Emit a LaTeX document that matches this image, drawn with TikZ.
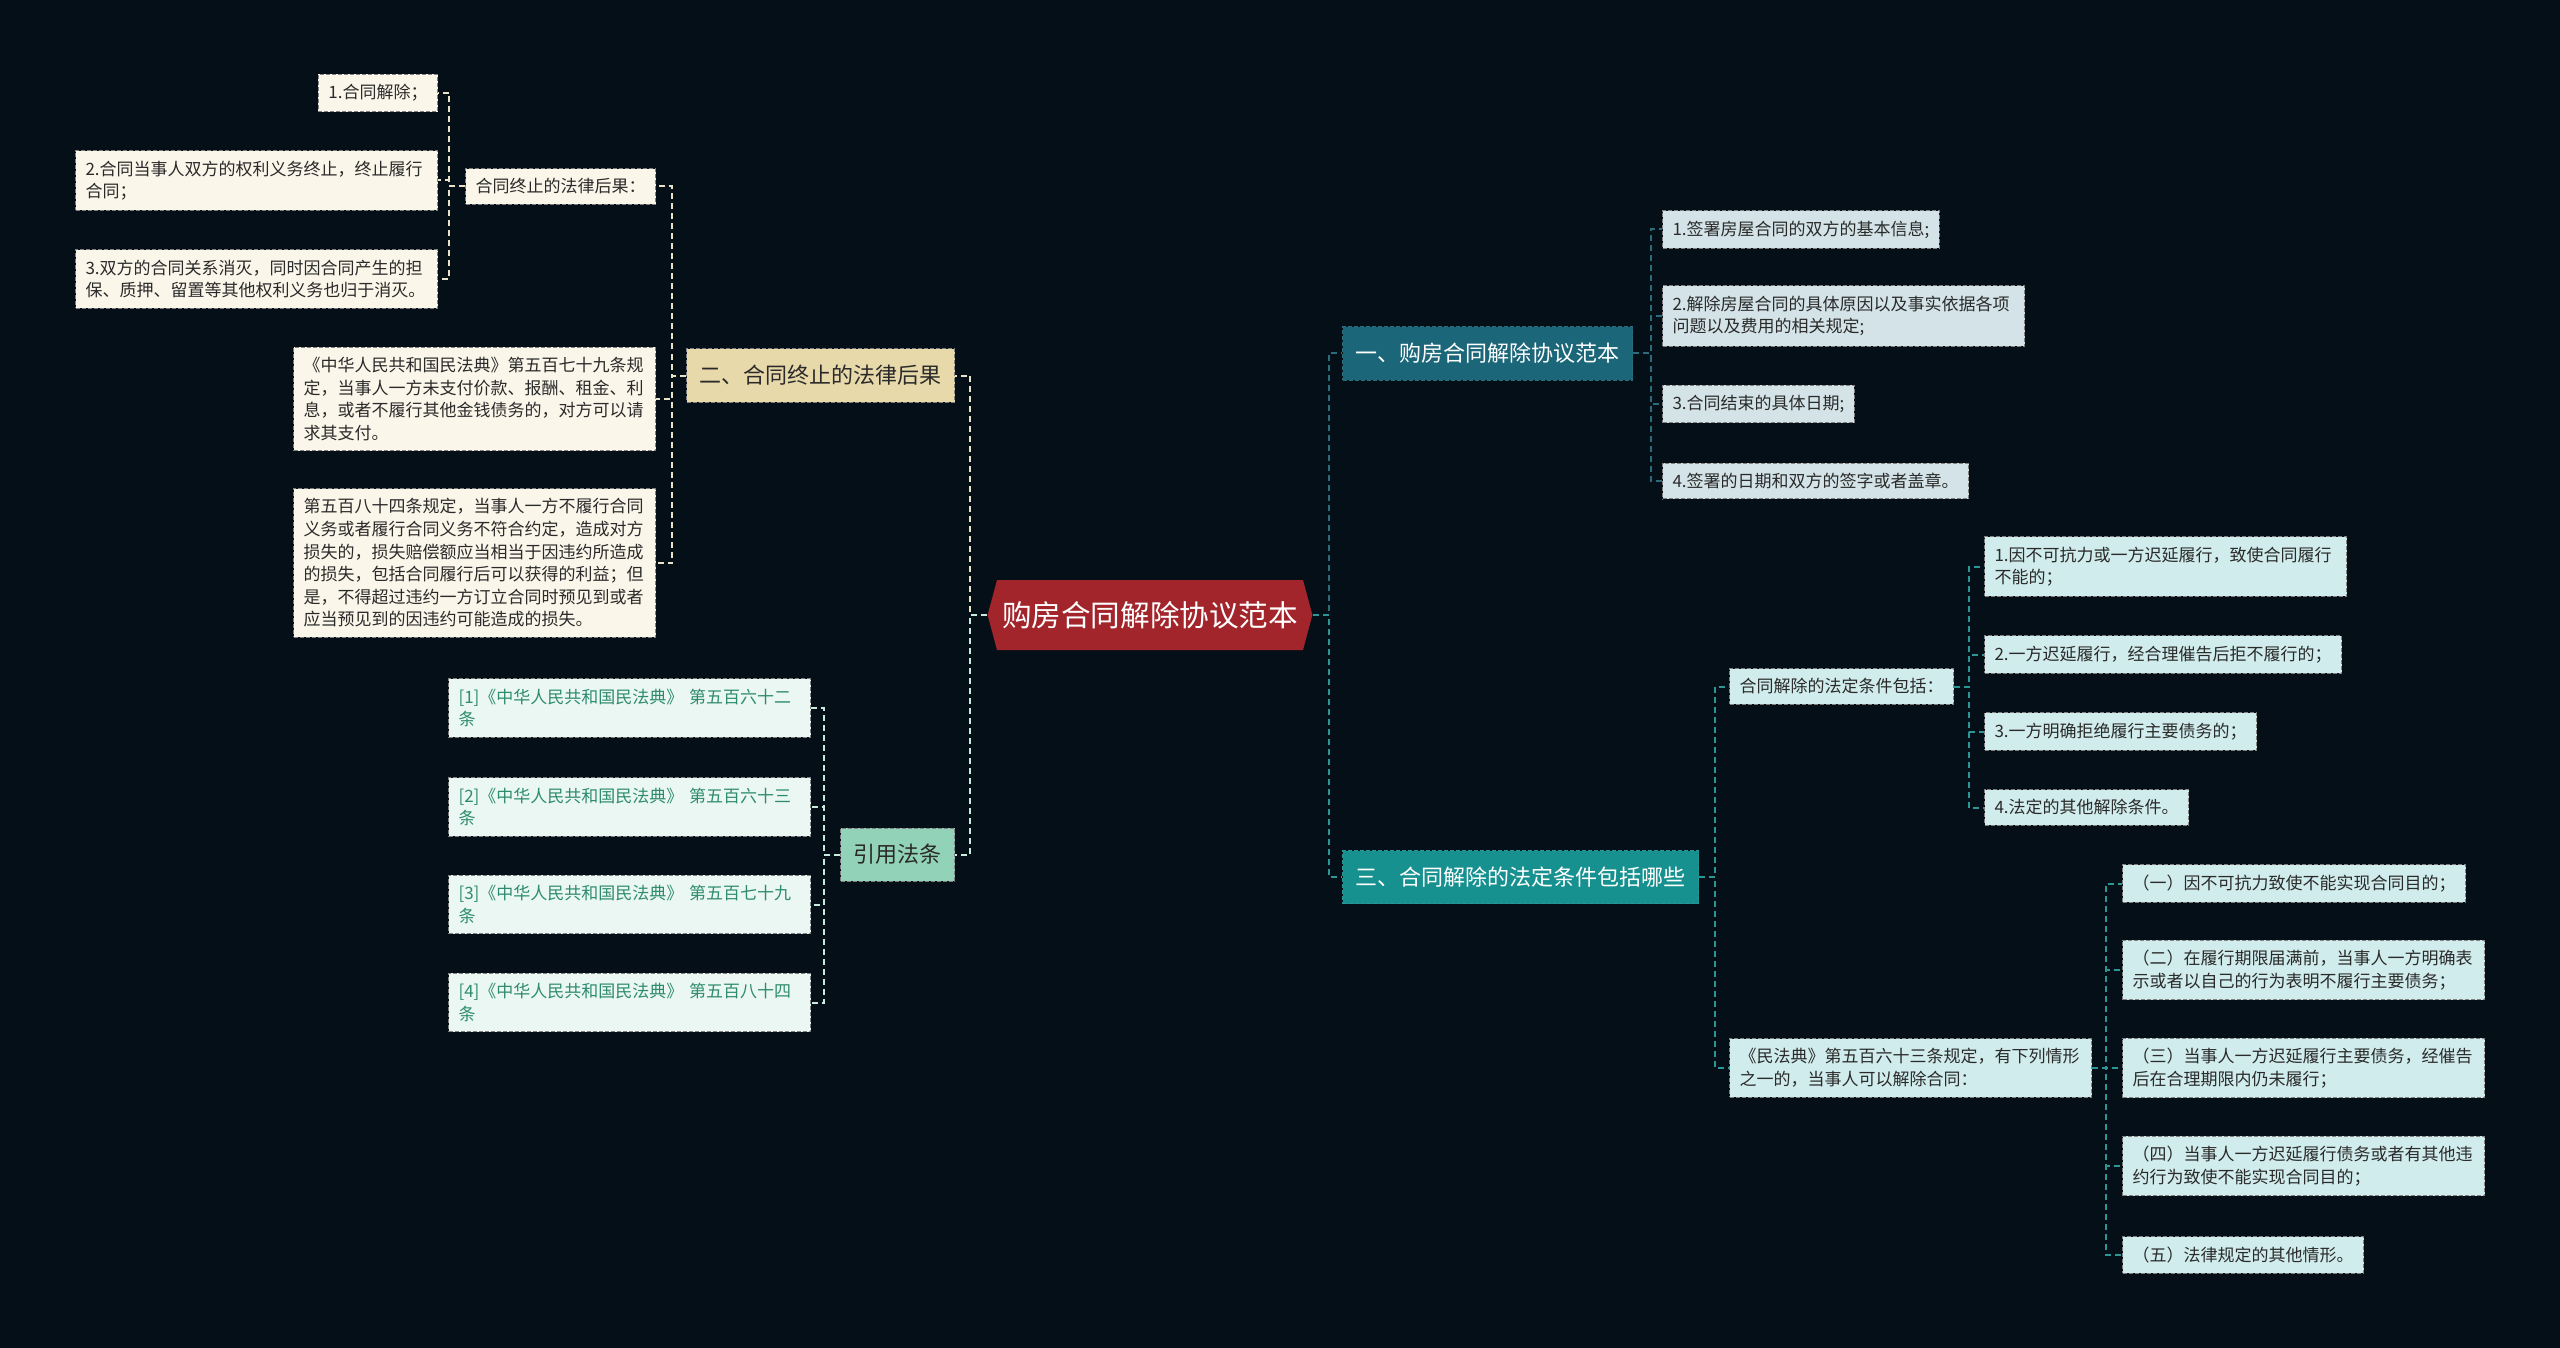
\documentclass[tikz,border=0pt]{standalone}
\usepackage{fontspec}
\setmainfont{Noto Sans CJK SC}
\usetikzlibrary{shapes.symbols}

\definecolor{sfondo}{HTML}{050F17}
\definecolor{rosso}{HTML}{A3252C}
\definecolor{petrolio}{HTML}{1B6678}
\definecolor{turchese}{HTML}{17918F}
\definecolor{sabbia}{HTML}{E8D9AA}
\definecolor{menta}{HTML}{92D2B8}
\definecolor{crema}{HTML}{FBF6EA}
\definecolor{grigioazz}{HTML}{D3E3E7}
\definecolor{azzchiaro}{HTML}{D1ECEC}
\definecolor{mentachiara}{HTML}{EAF7F2}
\definecolor{verdetesto}{HTML}{2E8B6E}
\definecolor{testo}{HTML}{2A2A2A}
\definecolor{lcrema}{HTML}{E9E2C8}
\definecolor{lmenta}{HTML}{C9EBDD}
\definecolor{lpetrolio}{HTML}{2A6C7C}
\definecolor{lturchese}{HTML}{2A9696}

\begin{document}
\begin{tikzpicture}[x=0.5pt,y=-0.5pt,
    radice/.style={signal, signal to=west and east, signal pointer angle=150, fill=rosso, text=white,
        font=\fontsize{14.8}{16}\selectfont, minimum height=35pt, inner xsep=2.5pt},
    titolo/.style={font=\fontsize{11}{13}\selectfont, minimum height=26.5pt, inner xsep=6.5pt,
        draw, line width=0.5pt, dash pattern=on 2pt off 1pt},
    foglia/.style={font=\fontsize{8.5}{11.3}\selectfont, inner xsep=5pt, inner ysep=5pt, text=testo,
        draw=gray, line width=0.5pt, dash pattern=on 2pt off 1pt},
    lunga/.style={foglia, text width=171pt, align=left},
    ramo/.style={line width=1pt, dash pattern=on 3pt off 2pt}]

    %sfondo
    \fill[sfondo] (0,0) rectangle (2560,1348);

    %radice
    \node (root) at (1150,615) [radice] {购房合同解除协议范本};

    %ramo destro: titoli
    \node (h1) at (1342,353.5) [titolo, anchor=west, fill=petrolio, draw=lpetrolio, text=white] {一、购房合同解除协议范本};
    \node (h3) at (1342,877) [titolo, anchor=west, fill=turchese, draw=lturchese, text=white] {三、合同解除的法定条件包括哪些};

    %foglie di h1
    \node (p1) at (1662,229.5) [foglia, anchor=west, fill=grigioazz] {1.签署房屋合同的双方的基本信息;};
    \node (p2) at (1662,316) [lunga, anchor=west, fill=grigioazz] {2.解除房屋合同的具体原因以及事实依据各项\\问题以及费用的相关规定;};
    \node (p3) at (1662,404) [foglia, anchor=west, fill=grigioazz] {3.合同结束的具体日期;};
    \node (p4) at (1662,481) [foglia, anchor=west, fill=grigioazz] {4.签署的日期和双方的签字或者盖章。};

    %figli di h3
    \node (s1) at (1729,686.5) [foglia, anchor=west, fill=azzchiaro] {合同解除的法定条件包括：};
    \node (s2) at (1729,1068) [lunga, anchor=west, fill=azzchiaro] {《民法典》第五百六十三条规定，有下列情形\\之一的，当事人可以解除合同：};

    \node (q1) at (1984,566.5) [lunga, anchor=west, fill=azzchiaro] {1.因不可抗力或一方迟延履行，致使合同履行\\不能的；};
    \node (q2) at (1984,654.5) [foglia, anchor=west, fill=azzchiaro] {2.一方迟延履行，经合理催告后拒不履行的；};
    \node (q3) at (1984,731.5) [foglia, anchor=west, fill=azzchiaro] {3.一方明确拒绝履行主要债务的；};
    \node (q4) at (1984,807.5) [foglia, anchor=west, fill=azzchiaro] {4.法定的其他解除条件。};

    \node (r1) at (2122,883.5) [foglia, anchor=west, fill=azzchiaro] {（一）因不可抗力致使不能实现合同目的；};
    \node (r2) at (2122,970) [lunga, anchor=west, fill=azzchiaro] {（二）在履行期限届满前，当事人一方明确表\\示或者以自己的行为表明不履行主要债务；};
    \node (r3) at (2122,1068) [lunga, anchor=west, fill=azzchiaro] {（三）当事人一方迟延履行主要债务，经催告\\后在合理期限内仍未履行；};
    \node (r4) at (2122,1166) [lunga, anchor=west, fill=azzchiaro] {（四）当事人一方迟延履行债务或者有其他违\\约行为致使不能实现合同目的；};
    \node (r5) at (2122,1255) [foglia, anchor=west, fill=azzchiaro] {（五）法律规定的其他情形。};

    %ramo sinistro: titoli
    \node (l2) at (955,375.5) [titolo, anchor=east, fill=sabbia, draw=gray, text=testo] {二、合同终止的法律后果};
    \node (lr) at (955,854.5) [titolo, anchor=east, fill=menta, draw=gray, text=testo] {引用法条};

    %figli di l2
    \node (a1) at (656,186.5) [foglia, anchor=east, fill=crema] {合同终止的法律后果：};
    \node (a2) at (656,399) [lunga, anchor=east, fill=crema] {《中华人民共和国民法典》第五百七十九条规\\定，当事人一方未支付价款、报酬、租金、利\\息，或者不履行其他金钱债务的，对方可以请\\求其支付。};
    \node (a3) at (656,563) [lunga, anchor=east, fill=crema] {第五百八十四条规定，当事人一方不履行合同\\义务或者履行合同义务不符合约定，造成对方\\损失的，损失赔偿额应当相当于因违约所造成\\的损失，包括合同履行后可以获得的利益；但\\是，不得超过违约一方订立合同时预见到或者\\应当预见到的因违约可能造成的损失。};

    \node (b1) at (438,93) [foglia, anchor=east, fill=crema] {1.合同解除；};
    \node (b2) at (438,180.5) [lunga, anchor=east, fill=crema] {2.合同当事人双方的权利义务终止，终止履行\\合同；};
    \node (b3) at (438,279) [lunga, anchor=east, fill=crema] {3.双方的合同关系消灭，同时因合同产生的担\\保、质押、留置等其他权利义务也归于消灭。};

    %leggi citate
    \node (f1) at (811,708) [lunga, anchor=east, fill=mentachiara, text=verdetesto] {[1]《中华人民共和国民法典》 第五百六十二\\条};
    \node (f2) at (811,807) [lunga, anchor=east, fill=mentachiara, text=verdetesto] {[2]《中华人民共和国民法典》 第五百六十三\\条};
    \node (f3) at (811,904.5) [lunga, anchor=east, fill=mentachiara, text=verdetesto] {[3]《中华人民共和国民法典》 第五百七十九\\条};
    \node (f4) at (811,1002.5) [lunga, anchor=east, fill=mentachiara, text=verdetesto] {[4]《中华人民共和国民法典》 第五百八十四\\条};

    %collegamenti destra
    \draw[ramo,lpetrolio] (root.east) -- ++(16,0) |- (h1.west);
    \draw[ramo,lturchese] (root.east) -- ++(16,0) |- (h3.west);
    \draw[ramo,lpetrolio] (h1.east) -- ++(18,0) |- (p1.west);
    \draw[ramo,lpetrolio] (h1.east) -- ++(18,0) |- (p2.west);
    \draw[ramo,lpetrolio] (h1.east) -- ++(18,0) |- (p3.west);
    \draw[ramo,lpetrolio] (h1.east) -- ++(18,0) |- (p4.west);
    \draw[ramo,lturchese] (h3.east) -- ++(16,0) |- (s1.west);
    \draw[ramo,lturchese] (h3.east) -- ++(16,0) |- (s2.west);
    \draw[ramo,lturchese] (s1.east) -- ++(15,0) |- (q1.west);
    \draw[ramo,lturchese] (s1.east) -- ++(15,0) |- (q2.west);
    \draw[ramo,lturchese] (s1.east) -- ++(15,0) |- (q3.west);
    \draw[ramo,lturchese] (s1.east) -- ++(15,0) |- (q4.west);
    \draw[ramo,lturchese] (s2.east) -- ++(14,0) |- (r1.west);
    \draw[ramo,lturchese] (s2.east) -- ++(14,0) |- (r2.west);
    \draw[ramo,lturchese] (s2.east) -- ++(14,0) |- (r3.west);
    \draw[ramo,lturchese] (s2.east) -- ++(14,0) |- (r4.west);
    \draw[ramo,lturchese] (s2.east) -- ++(14,0) |- (r5.west);

    %collegamenti sinistra
    \draw[ramo,lcrema] (root.west) -- ++(-17,0) |- (l2.east);
    \draw[ramo,lmenta] (root.west) -- ++(-17,0) |- (lr.east);
    \draw[ramo,lcrema] (l2.west) -- ++(-14,0) |- (a1.east);
    \draw[ramo,lcrema] (l2.west) -- ++(-14,0) |- (a2.east);
    \draw[ramo,lcrema] (l2.west) -- ++(-14,0) |- (a3.east);
    \draw[ramo,lcrema] (a1.west) -- ++(-16,0) |- (b1.east);
    \draw[ramo,lcrema] (a1.west) -- ++(-16,0) |- (b2.east);
    \draw[ramo,lcrema] (a1.west) -- ++(-16,0) |- (b3.east);
    \draw[ramo,lmenta] (lr.west) -- ++(-16,0) |- (f1.east);
    \draw[ramo,lmenta] (lr.west) -- ++(-16,0) |- (f2.east);
    \draw[ramo,lmenta] (lr.west) -- ++(-16,0) |- (f3.east);
    \draw[ramo,lmenta] (lr.west) -- ++(-16,0) |- (f4.east);
\end{tikzpicture}
\end{document}
